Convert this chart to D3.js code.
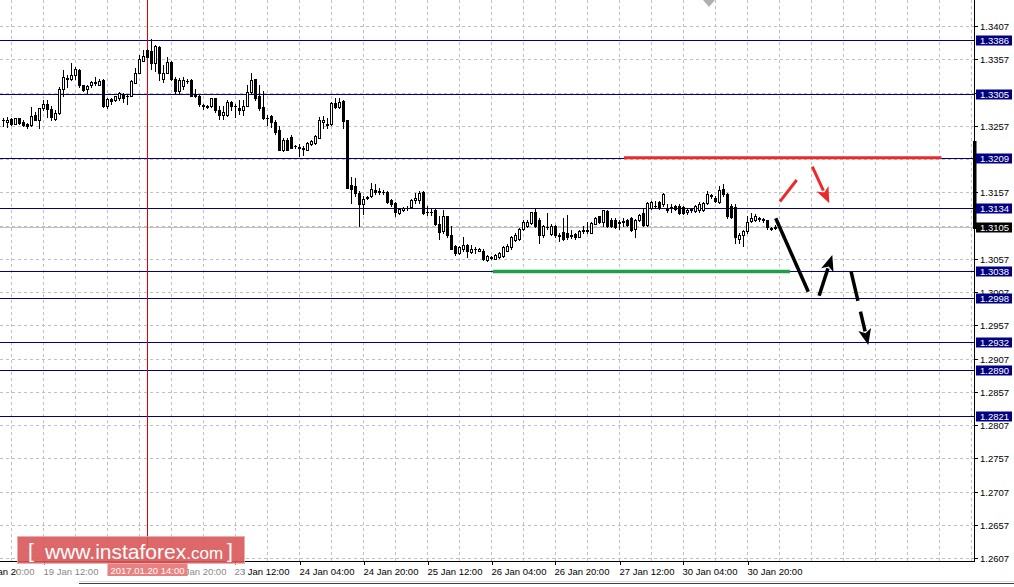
<!DOCTYPE html>
<html><head><meta charset="utf-8">
<script src="https://cdn.jsdelivr.net/npm/d3@7"></script>
<style>html,body{margin:0;padding:0;background:#fff;} svg{display:block;}</style>
</head><body>
<svg id="c" width="1014" height="587"></svg>
<script>
// ---- data (hourly candles, bar 0 = 19 Jan 02:00) ----
const openP = [1.3266,1.3263,1.3267,1.3260,1.3268,1.3262,1.3260,1.3258,1.3273,1.3266,
1.3284,1.3289,1.3282,1.3267,1.3276,1.3312,1.3328,1.3327,1.3334,1.3341,
1.3319,1.3312,1.3318,1.3322,1.3319,1.3326,1.3287,1.3297,1.3295,1.3298,
1.3305,1.3302,1.3302,1.3322,1.3337,1.3355,1.3371,1.3370,1.3352,1.3376,
1.3328,1.3337,1.3353,1.3328,1.3310,1.3317,1.3325,1.3326,1.3305,1.3302,
1.3288,1.3287,1.3286,1.3298,1.3281,1.3273,1.3273,1.3292,1.3287,1.3284,
1.3280,1.3287,1.3308,1.3327,1.3301,1.3285,1.3269,1.3272,1.3262,1.3251,
1.3220,1.3236,1.3240,1.3227,1.3225,1.3223,1.3221,1.3229,1.3231,1.3239,
1.3262,1.3258,1.3259,1.3291,1.3285,1.3294,1.3265,1.3168,1.3166,1.3156,
1.3139,1.3149,1.3151,1.3161,1.3158,1.3158,1.3157,1.3146,1.3141,1.3126,
1.3130,1.3133,1.3135,1.3145,1.3146,1.3157,1.3128,1.3127,1.3131,1.3110,
1.3099,1.3121,1.3092,1.3076,1.3065,1.3071,1.3078,1.3067,1.3071,1.3069,
1.3068,1.3055,1.3059,1.3057,1.3059,1.3061,1.3069,1.3074,1.3085,1.3086,
1.3101,1.3106,1.3111,1.3128,1.3115,1.3092,1.3104,1.3094,1.3106,1.3092,
1.3097,1.3096,1.3091,1.3094,1.3090,1.3099,1.3100,1.3096,1.3110,1.3121,
1.3113,1.3129,1.3116,1.3116,1.3111,1.3113,1.3115,1.3118,1.3101,1.3116,
1.3126,1.3108,1.3133,1.3136,1.3142,1.3139,1.3132,1.3134,1.3136,1.3136,
1.3135,1.3127,1.3131,1.3129,1.3131,1.3130,1.3141,1.3152,1.3149,1.3142,
1.3162,1.3154,1.3136,1.3135,1.3087,1.3092,1.3098,1.3114,1.3115,1.3117,
1.3117,1.3115,1.3103,1.3103];
const highP = [1.3269,1.3270,1.3268,1.3269,1.3269,1.3265,1.3261,1.3285,1.3278,1.3284,
1.3295,1.3295,1.3287,1.3281,1.3316,1.3341,1.3333,1.3352,1.3345,1.3342,
1.3319,1.3319,1.3324,1.3331,1.3327,1.3327,1.3298,1.3298,1.3302,1.3308,
1.3307,1.3304,1.3326,1.3344,1.3364,1.3371,1.3373,1.3387,1.3379,1.3377,
1.3348,1.3361,1.3354,1.3331,1.3329,1.3331,1.3328,1.3327,1.3313,1.3303,
1.3290,1.3288,1.3299,1.3299,1.3286,1.3287,1.3296,1.3294,1.3289,1.3296,
1.3296,1.3319,1.3336,1.3328,1.3318,1.3310,1.3273,1.3273,1.3266,1.3256,
1.3238,1.3238,1.3243,1.3228,1.3229,1.3226,1.3232,1.3236,1.3243,1.3270,
1.3271,1.3269,1.3293,1.3299,1.3299,1.3295,1.3266,1.3180,1.3179,1.3159,
1.3151,1.3152,1.3171,1.3169,1.3163,1.3160,1.3159,1.3147,1.3142,1.3134,
1.3135,1.3136,1.3147,1.3156,1.3159,1.3159,1.3136,1.3132,1.3132,1.3121,
1.3131,1.3122,1.3107,1.3077,1.3076,1.3090,1.3079,1.3078,1.3074,1.3073,
1.3071,1.3063,1.3061,1.3064,1.3067,1.3076,1.3079,1.3091,1.3095,1.3103,
1.3116,1.3116,1.3128,1.3132,1.3118,1.3108,1.3126,1.3109,1.3108,1.3096,
1.3118,1.3123,1.3100,1.3096,1.3100,1.3106,1.3113,1.3113,1.3120,1.3122,
1.3131,1.3130,1.3118,1.3118,1.3115,1.3118,1.3117,1.3120,1.3117,1.3125,
1.3134,1.3143,1.3144,1.3144,1.3144,1.3156,1.3139,1.3140,1.3138,1.3139,
1.3137,1.3133,1.3134,1.3138,1.3143,1.3142,1.3159,1.3155,1.3151,1.3166,
1.3169,1.3156,1.3139,1.3139,1.3095,1.3100,1.3122,1.3126,1.3124,1.3120,
1.3119,1.3116,1.3105,1.3108];
const lowP = [1.3256,1.3255,1.3258,1.3259,1.3260,1.3256,1.3254,1.3256,1.3265,1.3254,
1.3281,1.3270,1.3266,1.3265,1.3274,1.3301,1.3315,1.3326,1.3327,1.3316,
1.3310,1.3306,1.3316,1.3319,1.3318,1.3285,1.3283,1.3289,1.3294,1.3295,
1.3292,1.3290,1.3301,1.3322,1.3336,1.3354,1.3360,1.3342,1.3339,1.3326,
1.3323,1.3336,1.3326,1.3306,1.3307,1.3313,1.3321,1.3301,1.3300,1.3287,
1.3282,1.3283,1.3285,1.3278,1.3267,1.3267,1.3272,1.3280,1.3270,1.3275,
1.3273,1.3286,1.3306,1.3296,1.3281,1.3267,1.3258,1.3255,1.3245,1.3220,
1.3219,1.3220,1.3223,1.3224,1.3211,1.3213,1.3220,1.3228,1.3230,1.3238,
1.3254,1.3254,1.3258,1.3284,1.3284,1.3254,1.3163,1.3141,1.3151,1.3106,
1.3124,1.3147,1.3150,1.3155,1.3155,1.3155,1.3141,1.3137,1.3121,1.3125,
1.3129,1.3131,1.3134,1.3141,1.3141,1.3125,1.3123,1.3123,1.3108,1.3086,
1.3096,1.3090,1.3071,1.3063,1.3064,1.3068,1.3060,1.3066,1.3066,1.3068,
1.3055,1.3054,1.3056,1.3056,1.3058,1.3060,1.3068,1.3072,1.3084,1.3085,
1.3100,1.3105,1.3109,1.3105,1.3081,1.3090,1.3101,1.3093,1.3090,1.3083,
1.3085,1.3087,1.3088,1.3087,1.3089,1.3096,1.3095,1.3095,1.3109,1.3111,
1.3106,1.3105,1.3104,1.3103,1.3102,1.3106,1.3106,1.3098,1.3090,1.3114,
1.3107,1.3107,1.3132,1.3134,1.3132,1.3137,1.3128,1.3128,1.3130,1.3125,
1.3125,1.3124,1.3127,1.3128,1.3128,1.3129,1.3140,1.3149,1.3143,1.3141,
1.3151,1.3119,1.3118,1.3081,1.3080,1.3076,1.3096,1.3112,1.3114,1.3114,
1.3112,1.3102,1.3100,1.3101];
const closeP = [1.3265,1.3266,1.3260,1.3268,1.3261,1.3258,1.3256,1.3272,1.3266,1.3283,
1.3290,1.3282,1.3270,1.3276,1.3312,1.3330,1.3329,1.3334,1.3342,1.3319,
1.3311,1.3317,1.3323,1.3323,1.3324,1.3286,1.3297,1.3294,1.3301,1.3306,
1.3298,1.3301,1.3324,1.3337,1.3357,1.3362,1.3361,1.3352,1.3377,1.3337,
1.3337,1.3353,1.3327,1.3310,1.3326,1.3326,1.3324,1.3302,1.3301,1.3289,
1.3287,1.3285,1.3298,1.3280,1.3273,1.3278,1.3293,1.3286,1.3286,1.3280,
1.3287,1.3308,1.3326,1.3298,1.3283,1.3268,1.3268,1.3262,1.3247,1.3221,
1.3236,1.3221,1.3224,1.3226,1.3224,1.3222,1.3231,1.3234,1.3241,1.3266,
1.3266,1.3259,1.3291,1.3285,1.3293,1.3264,1.3164,1.3162,1.3156,1.3139,
1.3147,1.3150,1.3162,1.3157,1.3159,1.3157,1.3143,1.3139,1.3128,1.3132,
1.3133,1.3134,1.3146,1.3148,1.3156,1.3126,1.3127,1.3128,1.3109,1.3097,
1.3121,1.3092,1.3072,1.3065,1.3075,1.3078,1.3068,1.3072,1.3072,1.3071,
1.3056,1.3061,1.3058,1.3062,1.3065,1.3074,1.3076,1.3089,1.3092,1.3101,
1.3113,1.3113,1.3127,1.3106,1.3092,1.3106,1.3105,1.3107,1.3093,1.3091,
1.3087,1.3089,1.3092,1.3089,1.3098,1.3100,1.3099,1.3111,1.3118,1.3112,
1.3130,1.3106,1.3106,1.3105,1.3112,1.3114,1.3108,1.3100,1.3116,1.3123,
1.3108,1.3141,1.3142,1.3137,1.3134,1.3154,1.3131,1.3135,1.3132,1.3126,
1.3126,1.3131,1.3132,1.3137,1.3140,1.3141,1.3154,1.3153,1.3144,1.3161,
1.3154,1.3121,1.3120,1.3090,1.3093,1.3098,1.3112,1.3119,1.3121,1.3118,
1.3116,1.3104,1.3102,1.3105];

const timeLabels = ["18 Jan 20:00","19 Jan 12:00","20 Jan 04:00","20 Jan 20:00","23 Jan 12:00","24 Jan 04:00",
  "24 Jan 20:00","25 Jan 12:00","26 Jan 04:00","26 Jan 20:00","27 Jan 12:00","30 Jan 04:00","30 Jan 20:00"];
const timeLabelBars = [-6,10,26,42,58,74,90,106,122,138,154,170,186];
const priceTicks = [1.3407,1.3357,1.3307,1.3257,1.3207,1.3157,1.3107,1.3057,1.3007,1.2957,1.2907,1.2857,1.2807,1.2757,1.2707,1.2657,1.2607];
const levelPrices = [1.3386,1.3305,1.3209,1.3134,1.3038,1.2998,1.2932,1.2890,1.2821];
const bidPrice = 1.3105;
const crosshairBar = 36, crosshairText = "2017.01.20 14:00";
// annotations: [bar, price]
const redLevel = {price:1.3209, from:155.1, to:234.5};
const greenLevel = {price:1.3038, from:122.3, to:196.6};
const redStroke = [[194.1,1.31428],[198.3,1.31754]];
const redArrow = [[202.2,1.31954],[206.45,1.31404]];
const blackStroke = [[193.05,1.31178],[201.2,1.30075]];
const blackUpArrow = [[203.9,1.30014],[207.2,1.30626]];
const blackDashArrow = [[211.9,1.30375],[216.2,1.29273]];

// ---- layout ----
const W = 1014, H = 587, plotR = 974, plotB = 561;
const svg = d3.select("#c");
const x = d3.scaleLinear().domain([0,100]).range([3.5,403.5]);
const y = d3.scaleLinear().domain([1.3407,1.2607]).range([26,558]);
const FONT = "'Liberation Sans', Arial, sans-serif";

svg.append("rect").attr("width",W).attr("height",H).attr("fill","#fff");
svg.append("defs").append("clipPath").attr("id","plot").append("rect").attr("x",0).attr("y",0).attr("width",plotR).attr("height",plotB);
const plot = svg.append("g").attr("clip-path","url(#plot)");

// grid
const gridBars = d3.range(2, 243, 8);
plot.selectAll(".vg").data(gridBars).join("line")
  .attr("x1",d=>x(d)).attr("x2",d=>x(d)).attr("y1",0).attr("y2",plotB)
  .attr("stroke","#c0c0c0").attr("stroke-dasharray","3,3");
plot.selectAll(".hg").data(priceTicks).join("line")
  .attr("x1",0).attr("x2",plotR).attr("y1",d=>Math.round(y(d))+0.5).attr("y2",d=>Math.round(y(d))+0.5)
  .attr("stroke","#c0c0c0").attr("stroke-dasharray","3,3");
// bid line
plot.append("line").attr("x1",0).attr("x2",plotR)
  .attr("y1",Math.round(y(bidPrice))+0.5).attr("y2",Math.round(y(bidPrice))+0.5).attr("stroke","#c0c0c0");
// levels
plot.selectAll(".lv").data(levelPrices).join("line")
  .attr("x1",0).attr("x2",plotR).attr("y1",d=>Math.round(y(d))+0.5).attr("y2",d=>Math.round(y(d))+0.5)
  .attr("stroke","#000080").attr("stroke-width",1);

// crosshair
plot.append("line").attr("x1",x(crosshairBar)).attr("x2",x(crosshairBar)).attr("y1",0).attr("y2",plotB)
  .attr("stroke","#e00000").attr("stroke-width",1);

// candles
const bars = openP.map((o,i)=>({i,o,h:highP[i],l:lowP[i],c:closeP[i]}));
const cg = plot.append("g");
bars.forEach(b=>{
  const cx = x(b.i);
  cg.append("line").attr("x1",cx).attr("x2",cx).attr("y1",Math.round(y(b.h))).attr("y2",Math.round(y(b.l))+1)
    .attr("stroke","#000");
  const t = Math.round(y(Math.max(b.o,b.c))), bt = Math.round(y(Math.min(b.o,b.c)));
  if (bt - t < 1) {
    cg.append("line").attr("x1",cx-1.5).attr("x2",cx+1.5).attr("y1",t+0.5).attr("y2",t+0.5).attr("stroke","#000");
  } else {
    cg.append("rect").attr("x",cx-1).attr("y",t+0.5).attr("width",2).attr("height",bt-t)
      .attr("fill", b.c>=b.o ? "#fff" : "#000").attr("stroke","#000").attr("stroke-width",1);
  }
});

// annotations
const pt = p=>[x(p[0]), y(p[1])];
function seg(g, pts, color, w, dash){
  const [a,b] = pts.map(pt);
  const l = g.append("line").attr("x1",a[0]).attr("y1",a[1]).attr("x2",b[0]).attr("y2",b[1])
    .attr("stroke",color).attr("stroke-width",w).attr("stroke-linecap","butt");
  if (dash) l.attr("stroke-dasharray",dash);
}
function arrow(g, pts, color, w, dash){
  const [a,b] = pts.map(pt);
  const dx=b[0]-a[0], dy=b[1]-a[1], len=Math.hypot(dx,dy), ux=dx/len, uy=dy/len;
  const hl=16, hw=6.5;
  const bx=b[0]-ux*hl, by=b[1]-uy*hl;
  const l = g.append("line").attr("x1",a[0]).attr("y1",a[1]).attr("x2",bx+ux*2).attr("y2",by+uy*2)
    .attr("stroke",color).attr("stroke-width",w);
  if (dash) l.attr("stroke-dasharray",dash);
  g.append("path").attr("d",`M${b[0]},${b[1]}L${bx-uy*hw},${by+ux*hw}L${bx+ux*4},${by+uy*4}L${bx+uy*hw},${by-ux*hw}Z`)
    .attr("fill",color);
}
const ag = plot.append("g");
ag.append("line").attr("x1",x(redLevel.from)).attr("x2",x(redLevel.to)).attr("y1",y(redLevel.price)).attr("y2",y(redLevel.price))
  .attr("stroke","#ec2a2e").attr("stroke-width",3);
ag.append("line").attr("x1",x(greenLevel.from)).attr("x2",x(greenLevel.to)).attr("y1",y(greenLevel.price)).attr("y2",y(greenLevel.price))
  .attr("stroke","#1f9e4b").attr("stroke-width",3.5);
seg(ag, redStroke, "#ec2a2e", 3);
arrow(ag, redArrow, "#ec2a2e", 3);
seg(ag, blackStroke, "#000", 3.5);
arrow(ag, blackUpArrow, "#000", 3.5);
arrow(ag, blackDashArrow, "#000", 3.5, "30,11");

// axes frame
svg.append("line").attr("x1",plotR+0.5).attr("x2",plotR+0.5).attr("y1",0).attr("y2",plotB+1).attr("stroke","#000");
svg.append("line").attr("x1",0).attr("x2",plotR+1).attr("y1",plotB+0.5).attr("y2",plotB+0.5).attr("stroke","#000");

// right axis ticks + labels
const ra = svg.append("g");
priceTicks.forEach(p=>{
  const yy = Math.round(y(p))+0.5;
  ra.append("line").attr("x1",plotR).attr("x2",plotR+4).attr("y1",yy).attr("y2",yy).attr("stroke","#000");
  ra.append("text").attr("x",980).attr("y",yy+3.5).attr("font-family",FONT).attr("font-size",9.5)
    .attr("fill","#000").text(p.toFixed(4));
});
// current price bar
ra.append("rect").attr("x",973).attr("y",141).attr("width",3.5).attr("height",88).attr("fill","#000");
levelPrices.forEach(p=>{
  const yy = Math.round(y(p));
  ra.append("rect").attr("x",976).attr("y",yy-4.5).attr("width",36).attr("height",10).attr("fill","#000080");
  ra.append("text").attr("x",980).attr("y",yy+4).attr("font-family",FONT).attr("font-size",9.5)
    .attr("fill","#fff").text(p.toFixed(4));
});
{
  const yy = Math.round(y(bidPrice));
  ra.append("rect").attr("x",976).attr("y",yy-4.5).attr("width",36).attr("height",10).attr("fill","#000");
  ra.append("text").attr("x",980).attr("y",yy+4).attr("font-family",FONT).attr("font-size",9.5)
    .attr("fill","#fff").text(bidPrice.toFixed(4));
}

// bottom axis
const ba = svg.append("g");
timeLabels.forEach((t,k)=>{
  const xx = Math.round(x(timeLabelBars[k]))+0.5;
  ba.append("line").attr("x1",xx).attr("x2",xx).attr("y1",plotB).attr("y2",plotB+4).attr("stroke","#000");
  ba.append("text").attr("x",xx-1).attr("y",575).attr("font-family",FONT).attr("font-size",9.5)
    .attr("fill","#000").text(t);
});
// crosshair time label
{
  const cx = x(crosshairBar);
  ba.append("rect").attr("x",cx-40).attr("y",562).attr("width",80).attr("height",14).attr("fill","#d00000");
  ba.append("text").attr("x",cx).attr("y",573.5).attr("text-anchor","middle").attr("font-family",FONT)
    .attr("font-size",9.5).attr("fill","#fff").text(crosshairText);
}

// logo
const lg = svg.append("g");
lg.append("rect").attr("x",17).attr("y",563).attr("width",227).attr("height",15).attr("fill","#fff").attr("opacity",0.5);
lg.append("rect").attr("x",17.5).attr("y",536.5).attr("width",227).attr("height",27).attr("fill","#d9585a")
  .attr("opacity",0.9).attr("stroke","#eaa5a5");
lg.append("text").attr("x",28).attr("y",558).attr("font-family",FONT).attr("font-size",21).attr("fill","#fff").text("[");
const lt = lg.append("text").attr("x",45).attr("y",559).attr("font-family",FONT).attr("fill","#fff");
lt.append("tspan").attr("font-size",21).text("www.instaforex");
lt.append("tspan").attr("font-size",17).text(".com");
lg.append("text").attr("x",227).attr("y",558).attr("font-family",FONT).attr("font-size",21).attr("fill","#fff").text("]");

// top shift marker
svg.append("path").attr("d","M703,0L715,0L709,7Z").attr("fill","#b0b0b0");
// bottom window border
svg.append("line").attr("x1",79).attr("x2",W).attr("y1",581.5).attr("y2",581.5).attr("stroke","#d8d8d8");
svg.append("line").attr("x1",79).attr("x2",W).attr("y1",583.5).attr("y2",583.5).attr("stroke","#404040");
</script>
</body></html>
